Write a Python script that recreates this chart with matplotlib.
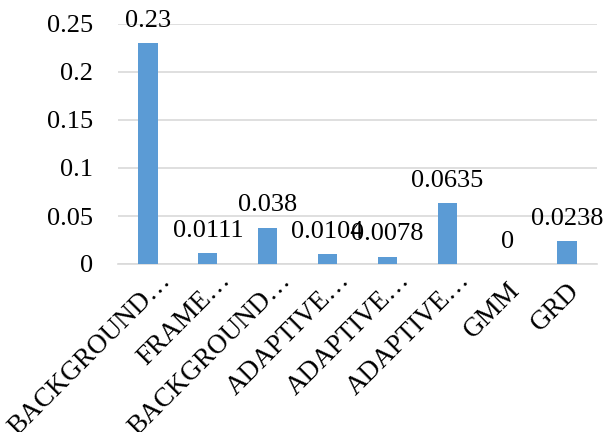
import matplotlib.pyplot as plt
from matplotlib.transforms import ScaledTranslation

plt.rcParams['font.family'] = ['Liberation Serif', 'DejaVu Serif']

categories = ['BACKGROUND…', 'FRAME…', 'BACKGROUND…', 'ADAPTIVE…',
              'ADAPTIVE…', 'ADAPTIVE…', 'GMM', 'GRD']
values = [0.23, 0.0111, 0.038, 0.0104, 0.0078, 0.0635, 0, 0.0238]
yticks = [0, 0.05, 0.1, 0.15, 0.2, 0.25]

fig = plt.figure(figsize=(6.09, 4.32), dpi=100)
ax = fig.add_axes([118 / 609, 1 - 264 / 432, 479 / 609, 240 / 432])

x = range(len(values))
ax.bar(x, values, width=0.32, color='#5B9BD5', zorder=3)

for i, v in enumerate(values):
    ax.annotate(f'{v:g}', (i, v), xytext=(0, 8), textcoords='offset points',
                ha='center', va='bottom', fontsize=19, zorder=4)

ax.set_xlim(-0.5, len(values) - 0.5)
ax.set_ylim(0, 0.25)
ax.set_yticks(yticks)
ax.set_yticklabels([f'{t:g}' for t in yticks], fontsize=19)
ax.set_xticks(list(x))
ax.set_xticklabels(categories, fontsize=19.5, rotation=45, ha='right',
                   rotation_mode='anchor')
ax.tick_params(length=0, pad=10)
ax.tick_params(axis='y', pad=18)

# truncated names sit a little further up the diagonal
for lbl in ax.get_xticklabels():
    if lbl.get_text().endswith('…'):
        lbl.set_transform(lbl.get_transform() +
                          ScaledTranslation(0.10, 0.10, fig.dpi_scale_trans))

ax.grid(axis='y', color='#D9D9D9', linewidth=1.2, zorder=0)
for s in ['top', 'right', 'left']:
    ax.spines[s].set_visible(False)
ax.spines['bottom'].set_color('#D9D9D9')
ax.spines['bottom'].set_linewidth(1.2)

fig.savefig('out.png', dpi=100)
